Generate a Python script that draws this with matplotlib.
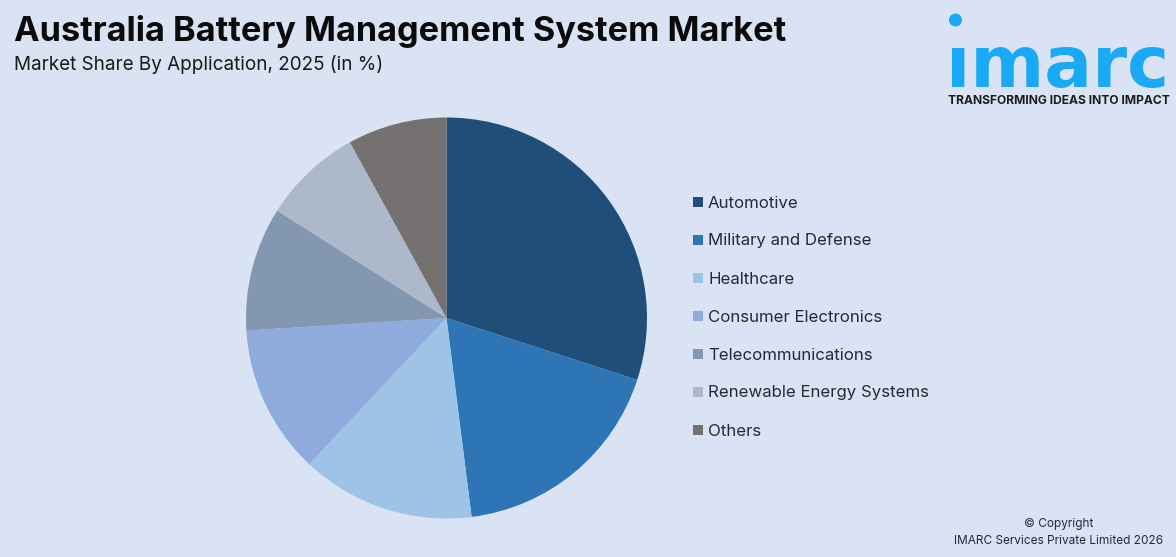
import matplotlib.pyplot as plt
from matplotlib.patches import Circle, Rectangle

plt.rcParams['font.family'] = 'Inter'

categories = ['Automotive', 'Military and Defense', 'Healthcare', 'Consumer Electronics',
              'Telecommunications', 'Renewable Energy Systems', 'Others']
shares = [30, 18, 14, 12, 10, 8, 8]
colors = ['#1F4E79', '#2E75B6', '#9DC3E6', '#8FAADC', '#8497B0', '#ADB9CA', '#767171']

W, H = 1176, 557
bg = '#DAE3F3'

fig = plt.figure(figsize=(W / 100, H / 100), dpi=100, facecolor=bg)

# pie in its own axes
ax = fig.add_axes([246 / W, (H - 518.5) / H, 401 / W, 401 / H])
ax.pie(shares, colors=colors, startangle=90, counterclock=False, radius=1)
ax.set_xlim(-1, 1)
ax.set_ylim(-1, 1)

# overlay in pixel coordinates for texts, legend and logo
ov = fig.add_axes([0, 0, 1, 1], facecolor='none')
ov.set_xlim(0, W)
ov.set_ylim(H, 0)
ov.axis('off')

ov.text(14, 31, 'Australia Battery Management System Market', fontsize=24.7,
        fontweight='bold', color='#0b0b0b', va='center', ha='left')
ov.text(14, 65, 'Market Share By Application, 2025 (in %)', fontsize=13.6,
        color='#1a1a1a', va='center', ha='left')

for i, (cat, col) in enumerate(zip(categories, colors)):
    y = 202 + i * 38
    ov.add_patch(Rectangle((693, y - 5), 10, 10, facecolor=col, edgecolor='none'))
    ov.text(708, y + 5.5, cat, fontsize=12.1, color='#222b35', va='baseline', ha='left')

# logo
ov.add_patch(Circle((955.5, 20), 6.5, facecolor='#1AA9F5', edgecolor='none'))
ov.text(1057.5, 87.5, '\u0131marc', fontsize=51, fontweight='bold', family='DejaVu Sans',
        color='#1AA9F5', va='baseline', ha='center')
ov.text(1058.5, 104.5, 'TRANSFORMING IDEAS INTO IMPACT', fontsize=8.7, fontweight='bold',
        color='#1c1c1c', va='baseline', ha='center')

ov.text(1059, 524, '\u00a9 Copyright', fontsize=8.5, color='#222b35', va='center', ha='center')
ov.text(1059, 541, 'IMARC Services Private Limited 2026', fontsize=8.5, color='#222b35',
        va='center', ha='center')

fig.savefig('out.png', dpi=100, facecolor=bg)
